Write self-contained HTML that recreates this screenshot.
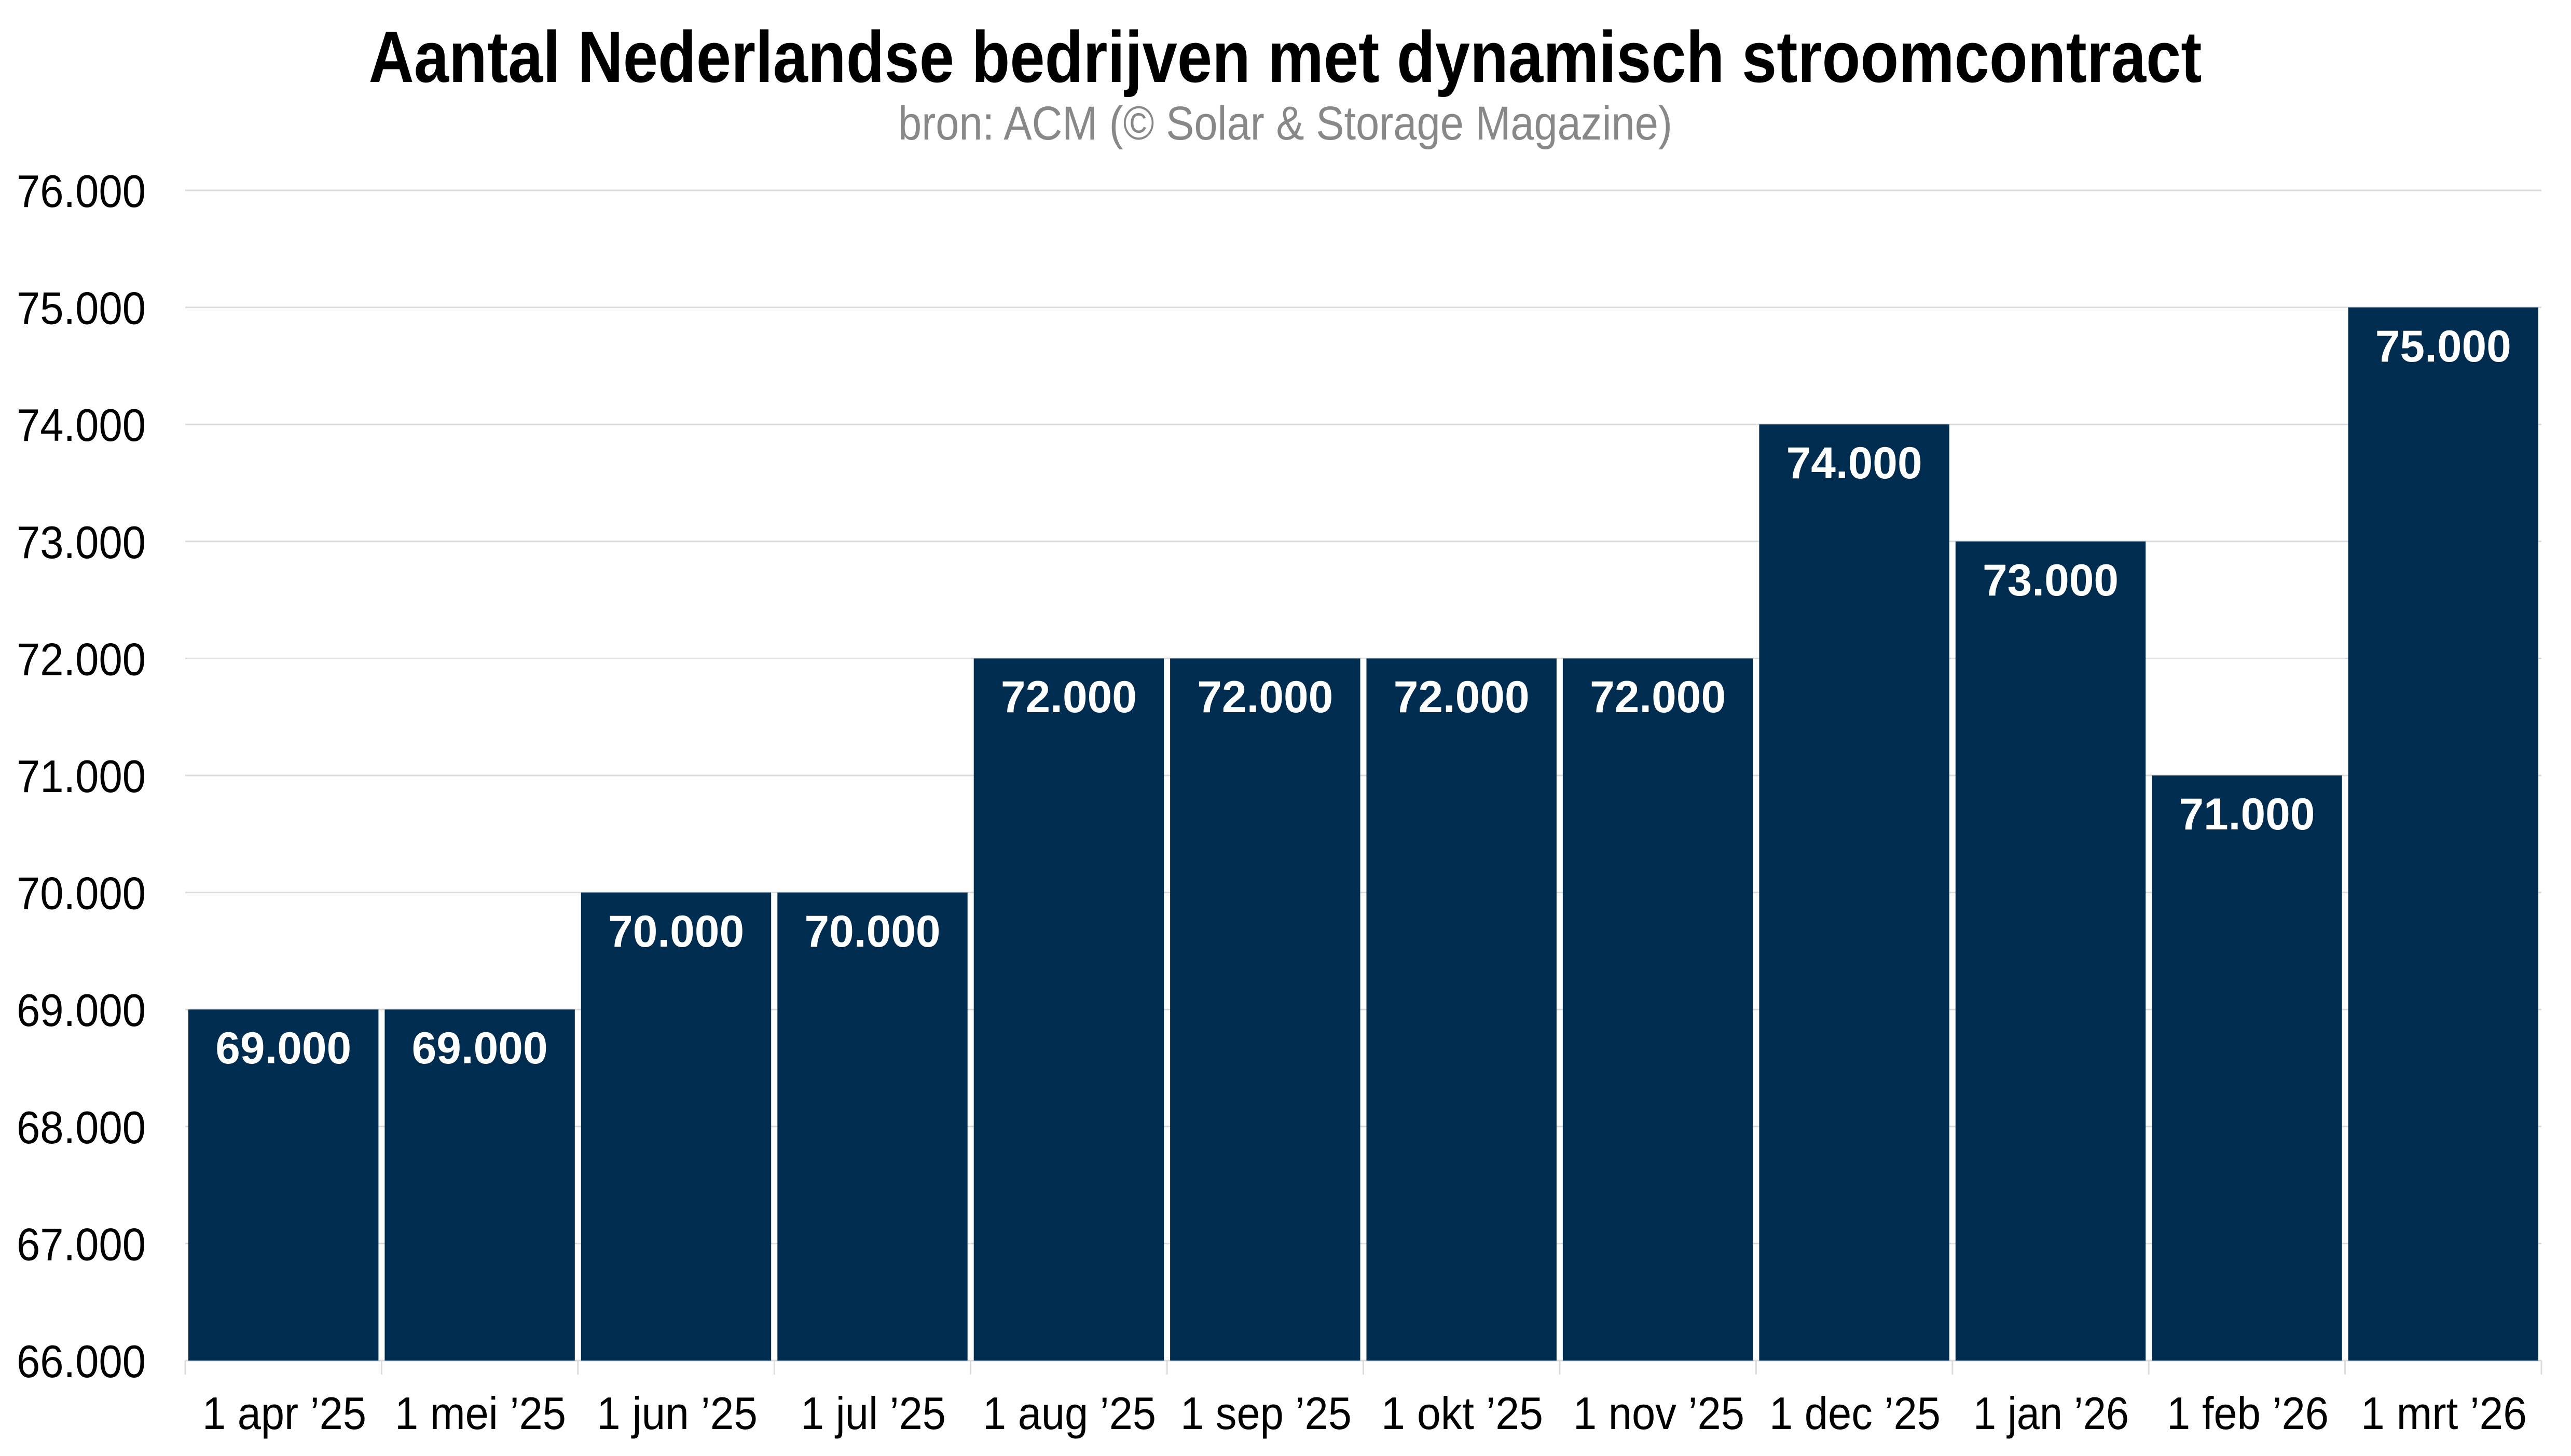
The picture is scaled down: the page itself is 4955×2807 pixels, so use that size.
<!DOCTYPE html>
<html><head><meta charset="utf-8"><style>
html,body{margin:0;padding:0;background:#fff;}
svg{display:block;}
</style></head><body>
<svg width="4955" height="2807" viewBox="0 0 4955 2807" xmlns="http://www.w3.org/2000/svg" font-family="'Liberation Sans', sans-serif">
<rect width="4955" height="2807" fill="#fff"/>
<text x="2477" y="158" text-anchor="middle" font-size="140" font-weight="bold" fill="#000" textLength="3533" lengthAdjust="spacingAndGlyphs">Aantal Nederlandse bedrijven met dynamisch stroomcontract</text>
<text x="2477" y="269" text-anchor="middle" font-size="92" fill="#888" textLength="1492" lengthAdjust="spacingAndGlyphs">bron: ACM (© Solar &amp; Storage Magazine)</text>
<g stroke="#dcdcdc" stroke-width="3">
<line x1="357" x2="4898" y1="367" y2="367"/>
<line x1="357" x2="4898" y1="592.6" y2="592.6"/>
<line x1="357" x2="4898" y1="818.2" y2="818.2"/>
<line x1="357" x2="4898" y1="1043.8" y2="1043.8"/>
<line x1="357" x2="4898" y1="1269.4" y2="1269.4"/>
<line x1="357" x2="4898" y1="1495" y2="1495"/>
<line x1="357" x2="4898" y1="1720.6" y2="1720.6"/>
<line x1="357" x2="4898" y1="1946.2" y2="1946.2"/>
<line x1="357" x2="4898" y1="2171.8" y2="2171.8"/>
<line x1="357" x2="4898" y1="2397.4" y2="2397.4"/>
<line x1="357" x2="4898" y1="2623" y2="2623"/>
<line x1="357" x2="357" y1="2623" y2="2650"/>
<line x1="735.4" x2="735.4" y1="2623" y2="2650"/>
<line x1="1113.8" x2="1113.8" y1="2623" y2="2650"/>
<line x1="1492.3" x2="1492.3" y1="2623" y2="2650"/>
<line x1="1870.7" x2="1870.7" y1="2623" y2="2650"/>
<line x1="2249.1" x2="2249.1" y1="2623" y2="2650"/>
<line x1="2627.5" x2="2627.5" y1="2623" y2="2650"/>
<line x1="3005.9" x2="3005.9" y1="2623" y2="2650"/>
<line x1="3384.4" x2="3384.4" y1="2623" y2="2650"/>
<line x1="3762.8" x2="3762.8" y1="2623" y2="2650"/>
<line x1="4141.2" x2="4141.2" y1="2623" y2="2650"/>
<line x1="4519.6" x2="4519.6" y1="2623" y2="2650"/>
<line x1="4898" x2="4898" y1="2623" y2="2650"/>
</g>
<g font-size="88" fill="#000" text-anchor="end">
<text x="281" y="399" textLength="249" lengthAdjust="spacingAndGlyphs">76.000</text>
<text x="281" y="624.6" textLength="249" lengthAdjust="spacingAndGlyphs">75.000</text>
<text x="281" y="850.2" textLength="249" lengthAdjust="spacingAndGlyphs">74.000</text>
<text x="281" y="1075.8" textLength="249" lengthAdjust="spacingAndGlyphs">73.000</text>
<text x="281" y="1301.4" textLength="249" lengthAdjust="spacingAndGlyphs">72.000</text>
<text x="281" y="1527" textLength="249" lengthAdjust="spacingAndGlyphs">71.000</text>
<text x="281" y="1752.6" textLength="249" lengthAdjust="spacingAndGlyphs">70.000</text>
<text x="281" y="1978.2" textLength="249" lengthAdjust="spacingAndGlyphs">69.000</text>
<text x="281" y="2203.8" textLength="249" lengthAdjust="spacingAndGlyphs">68.000</text>
<text x="281" y="2429.4" textLength="249" lengthAdjust="spacingAndGlyphs">67.000</text>
<text x="281" y="2655" textLength="249" lengthAdjust="spacingAndGlyphs">66.000</text>
</g>
<g fill="#002d4f">
<rect x="363" y="1946.2" width="366.4" height="676.8"/>
<rect x="741.4" y="1946.2" width="366.4" height="676.8"/>
<rect x="1119.8" y="1720.6" width="366.4" height="902.4"/>
<rect x="1498.3" y="1720.6" width="366.4" height="902.4"/>
<rect x="1876.7" y="1269.4" width="366.4" height="1353.6"/>
<rect x="2255.1" y="1269.4" width="366.4" height="1353.6"/>
<rect x="2633.5" y="1269.4" width="366.4" height="1353.6"/>
<rect x="3011.9" y="1269.4" width="366.4" height="1353.6"/>
<rect x="3390.4" y="818.2" width="366.4" height="1804.8"/>
<rect x="3768.8" y="1043.8" width="366.4" height="1579.2"/>
<rect x="4147.2" y="1495" width="366.4" height="1128"/>
<rect x="4525.6" y="592.6" width="366.4" height="2030.4"/>
</g>
<g font-size="86" font-weight="bold" fill="#fff" text-anchor="middle">
<text x="546.2" y="2050" textLength="262" lengthAdjust="spacingAndGlyphs">69.000</text>
<text x="924.6" y="2050" textLength="262" lengthAdjust="spacingAndGlyphs">69.000</text>
<text x="1303.1" y="1825" textLength="262" lengthAdjust="spacingAndGlyphs">70.000</text>
<text x="1681.5" y="1825" textLength="262" lengthAdjust="spacingAndGlyphs">70.000</text>
<text x="2059.9" y="1373" textLength="262" lengthAdjust="spacingAndGlyphs">72.000</text>
<text x="2438.3" y="1373" textLength="262" lengthAdjust="spacingAndGlyphs">72.000</text>
<text x="2816.7" y="1373" textLength="262" lengthAdjust="spacingAndGlyphs">72.000</text>
<text x="3195.1" y="1373" textLength="262" lengthAdjust="spacingAndGlyphs">72.000</text>
<text x="3573.6" y="922" textLength="262" lengthAdjust="spacingAndGlyphs">74.000</text>
<text x="3952" y="1148" textLength="262" lengthAdjust="spacingAndGlyphs">73.000</text>
<text x="4330.4" y="1599" textLength="262" lengthAdjust="spacingAndGlyphs">71.000</text>
<text x="4708.8" y="697" textLength="262" lengthAdjust="spacingAndGlyphs">75.000</text>
</g>
<g font-size="88" fill="#000" text-anchor="middle">
<text x="548" y="2755" textLength="316" lengthAdjust="spacingAndGlyphs">1 apr ’25</text>
<text x="926" y="2755" textLength="330" lengthAdjust="spacingAndGlyphs">1 mei ’25</text>
<text x="1305" y="2755" textLength="310" lengthAdjust="spacingAndGlyphs">1 jun ’25</text>
<text x="1683" y="2755" textLength="280" lengthAdjust="spacingAndGlyphs">1 jul ’25</text>
<text x="2061" y="2755" textLength="334" lengthAdjust="spacingAndGlyphs">1 aug ’25</text>
<text x="2440" y="2755" textLength="330" lengthAdjust="spacingAndGlyphs">1 sep ’25</text>
<text x="2818" y="2755" textLength="312" lengthAdjust="spacingAndGlyphs">1 okt ’25</text>
<text x="3197" y="2755" textLength="330" lengthAdjust="spacingAndGlyphs">1 nov ’25</text>
<text x="3575" y="2755" textLength="330" lengthAdjust="spacingAndGlyphs">1 dec ’25</text>
<text x="3953" y="2755" textLength="300" lengthAdjust="spacingAndGlyphs">1 jan ’26</text>
<text x="4332" y="2755" textLength="312" lengthAdjust="spacingAndGlyphs">1 feb ’26</text>
<text x="4710" y="2755" textLength="320" lengthAdjust="spacingAndGlyphs">1 mrt ’26</text>
</g>
</svg>
</body></html>
